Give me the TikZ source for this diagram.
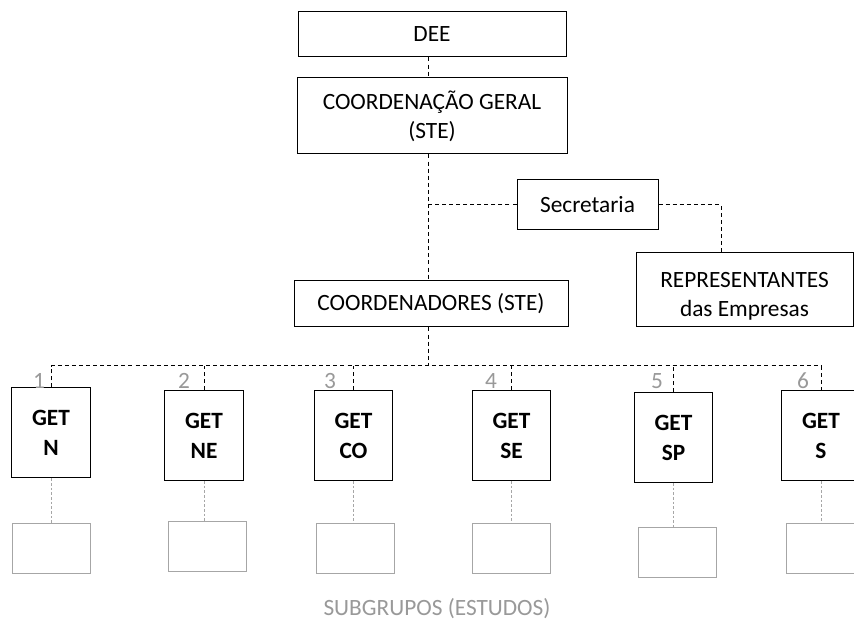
\documentclass[tikz,border=0pt]{standalone}
\usepackage{fontspec}
\setmainfont{Carlito}
\begin{document}
\begin{tikzpicture}[x=0.75pt,y=-0.75pt,
  box/.style={draw=black,line width=0.75pt,rectangle,inner sep=0pt,align=center,font=\fontsize{17.5}{21.75}\selectfont},
  getbox/.style={box,minimum width=59pt,minimum height=67.5pt,font=\fontsize{17.5}{22.5}\selectfont\bfseries},
  subbox/.style={draw=black!35,line width=0.75pt,rectangle,inner sep=0pt,minimum width=58.5pt,minimum height=37.5pt},
  link/.style={line width=0.75pt,dash pattern=on 3pt off 2.3pt},
  sublink/.style={draw=black!35,line width=0.5pt,dash pattern=on 2pt off 1.5pt},
  num/.style={text=black!40,font=\fontsize{17.5}{20}\selectfont,inner sep=0pt}]
\useasboundingbox (0,0) rectangle (854,623);
\clip (0,0) rectangle (854,623);
\fill[white] (0,0) rectangle (854,623);
% top boxes
\node[box,minimum width=201pt,minimum height=33.75pt] (dee) at (432,34.5) {DEE};
\node[box,minimum width=202.5pt,minimum height=57pt] (cg) at (432,116) {COORDENAÇÃO GERAL\\(STE)};
\node[box,minimum width=105.75pt,minimum height=37.5pt] (sec) at (587.5,205) {Secretaria};
\node[box,minimum width=162.75pt,minimum height=55.5pt,
  label={[align=center,inner sep=0pt,yshift=-5pt,font=\fontsize{17.5}{21.75}\selectfont]center:REPRESENTANTES\\das Empresas}] (rep) at (744.5,290) {};
\node[box,minimum width=205.5pt,minimum height=34.5pt] (crd) at (431,304) {COORDENADORES (STE)};
\coordinate (spine) at (428,0);
\coordinate (repdrop) at (721,0);
\coordinate (bus) at (0,366);
% GET boxes
\node[getbox] (g1) at (51,433) {GET\\N};
\node[getbox] (g2) at (204,435.5) {GET\\NE};
\node[getbox] (g3) at (353.5,435.5) {GET\\CO};
\node[getbox] (g4) at (511.5,435.5) {GET\\SE};
\node[getbox] (g5) at (673.5,437.5) {GET\\SP};
\node[getbox] (g6) at (821,435.5) {GET\\S};
% numbers
\node[num] (n1) at (39,381) {1};
\node[num] (n2) at (184,381) {2};
\node[num] (n3) at (330,381) {3};
\node[num] (n4) at (491,381) {4};
\node[num] (n5) at (657,381) {5};
\node[num] (n6) at (803,381) {6};
% subgroup boxes
\node[subbox] (s1) at (51,549) {};
\node[subbox] (s2) at (207,546.5) {};
\node[subbox] (s3) at (355,549) {};
\node[subbox] (s4) at (511,549) {};
\node[subbox] (s5) at (677,553) {};
\node[subbox] (s6) at (825,549) {};
\node[text=black!40,font=\fontsize{17.5}{20}\selectfont] (subl) at (437,609) {SUBGRUPOS (ESTUDOS)};
% connectors
\draw[link] (dee.south -| spine) -- (cg.north -| spine);
\draw[link] (cg.south -| spine) -- (crd.north -| spine);
\draw[link] (sec.west) -- (sec.west -| spine);
\draw[link] (sec.east) -| (rep.north -| repdrop);
\draw[link] (crd.south -| spine) -- (spine |- bus);
\draw[link] (g1.north) |- (g6.north |- bus) -- (g6.north);
\foreach \g in {g2,g3,g4,g5}{\draw[link] (\g.north) -- (\g.north |- bus);}
\foreach \i in {1,...,6}{\draw[sublink] (g\i.south) -- (g\i.south |- s\i.north);}
\end{tikzpicture}
\end{document}
